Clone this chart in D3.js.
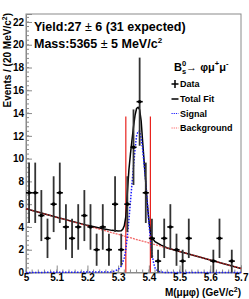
<!DOCTYPE html>
<html><head><meta charset="utf-8">
<script src="https://cdn.jsdelivr.net/npm/d3@7/dist/d3.min.js"></script>
<style>
body{margin:0;background:#fff}
text{font-family:"Liberation Sans",Arial,Helvetica,sans-serif;font-weight:bold}
</style>
</head><body>
<svg id="c" width="249" height="299"></svg>
<script>
// ---- data ----
const binCenters = [5.01,5.03,5.05,5.07,5.09,5.11,5.13,5.15,5.17,5.19,5.21,5.23,5.25,5.27,5.29,5.31,5.33,5.35,5.37,5.39,5.41,5.43,5.45,5.47,5.49,5.51,5.53,5.55,5.57,5.59,5.61,5.63,5.65,5.67,5.69];
const counts     = [7,7,5,3,6,7,4,3,4,5,4,2,4,2,6,2,6,11,15,7,3,1,3,4,2,1,3,0,0,0,1,3,0,1,0];
const errors     = [2.65,2.65,2.24,1.73,2.45,2.65,2,1.73,2,2.24,2,1.41,2,1.41,2.45,1.41,2.45,3.32,3.87,2.65,1.73,1,1.73,2,1.41,1,1.73,0,0,0,1,1.73,0,1,0];
const binHalfWidth = 0.01;

const bkgX = [5.0, 5.7];
const bkgY = [5.6, 0.35];

const totalX = [5.0,5.1,5.2,5.25,5.28,5.3,5.31,5.315,5.32,5.325,5.33,5.335,5.34,5.345,5.35,5.355,5.36,5.365,5.37,5.375,5.38,5.385,5.39,5.395,5.4,5.405,5.41,5.42,5.44,5.46,5.5,5.6,5.7];
const totalY = [5.6,4.86,4.14,3.85,3.70,3.64,3.66,3.8,4.1,4.9,7.0,9.0,10.4,11.6,12.8,13.8,14.4,14.5,14.3,13.3,11.4,9.6,7.9,6.0,4.6,3.5,3.05,2.7,2.4,2.15,1.85,1.1,0.35];

const sigX = [5.0,5.28,5.3,5.31,5.32,5.325,5.33,5.335,5.34,5.345,5.35,5.355,5.36,5.365,5.37,5.375,5.38,5.385,5.39,5.395,5.4,5.405,5.41,5.415,5.42,5.43,5.45,5.7];
const sigY = [0,0.05,0.25,0.55,1.3,2.0,3.2,4.6,6.2,7.8,9.3,10.8,12.0,12.4,12.4,11.8,10.8,9.4,7.9,6.2,4.4,2.9,1.7,0.9,0.4,0.1,0,0];

const windowEdges = [5.325, 5.405];
const windowTop = 13.7;

const xTicks = [5,5.1,5.2,5.3,5.4,5.5,5.6,5.7];
const yTicks = [0,2,4,6,8,10,12,14,16,18,20,22];

const legendLabels = ["Data","Total Fit","Signal","Background"];

// ---- layout ----
const svg = d3.select("#c");
const x = d3.scaleLinear().domain([5.0,5.7]).range([26,241]);
const y = d3.scaleLinear().domain([0,22.7]).range([272.5,14]);

// frame
svg.append("rect").attr("x",26).attr("y",14).attr("width",215).attr("height",258.5)
  .attr("fill","none").attr("stroke","#8a8a8a").attr("stroke-width",1);

// minor ticks
const yMinor = d3.range(0,22.8,0.4);
const xMinor = d3.range(5.0,5.701,0.02);
svg.append("g").selectAll("line").data(yMinor).join("line")
  .attr("x1",26).attr("x2",29).attr("y1",d=>y(d)).attr("y2",d=>y(d))
  .attr("stroke","#8a8a8a");
svg.append("g").selectAll("line").data(xMinor).join("line")
  .attr("x1",d=>x(d)).attr("x2",d=>x(d)).attr("y1",272.5).attr("y2",269.5)
  .attr("stroke","#8a8a8a");

// axes
const yAxis = svg.append("g").attr("transform","translate(26,0)")
  .call(d3.axisLeft(y).tickValues(yTicks).tickFormat(d3.format("d")).tickSize(-6).tickPadding(2));
const xAxis = svg.append("g").attr("transform","translate(0,272.5)")
  .call(d3.axisBottom(x).tickValues(xTicks).tickFormat(d=>d===5?"5":d3.format(".1f")(d)).tickSize(-7).tickPadding(3));
[yAxis,xAxis].forEach(g=>{
  g.select(".domain").attr("stroke","#8a8a8a");
  g.selectAll(".tick line").attr("stroke","#8a8a8a");
  g.selectAll("text").attr("font-size",10).attr("font-weight","bold").attr("fill","#000")
   .attr("font-family","'Liberation Sans',Arial,sans-serif");
});
xAxis.selectAll("text").attr("dy","0.55em");

// signal window lines
svg.append("g").selectAll("line").data(windowEdges).join("line")
  .attr("x1",d=>x(d)).attr("x2",d=>x(d)).attr("y1",y(0)).attr("y2",y(windowTop))
  .attr("stroke","#e8221d").attr("stroke-width",1.2);

const line = d3.line().x(d=>x(d[0])).y(d=>y(d[1]));

// total fit
svg.append("path").datum(totalX.map((v,i)=>[v,totalY[i]])).attr("d",line)
  .attr("fill","none").attr("stroke","#000").attr("stroke-width",1.5);
// background
svg.append("path").datum(bkgX.map((v,i)=>[v,bkgY[i]])).attr("d",line)
  .attr("fill","none").attr("stroke","#e33").attr("stroke-width",1.3).attr("stroke-dasharray","2,1").attr("opacity",0.75);
// signal
svg.append("path").datum(sigX.map((v,i)=>[v,sigY[i]])).attr("d",line)
  .attr("fill","none").attr("stroke","#1a1aff").attr("stroke-width",1.5).attr("stroke-dasharray","1.5,1.5");

// data points
const pts = binCenters.map((c,i)=>({c,n:counts[i],e:errors[i]})).filter(d=>d.n>0);
const gd = svg.append("g");
gd.selectAll("line.v").data(pts).join("line").attr("class","v")
  .attr("x1",d=>x(d.c)).attr("x2",d=>x(d.c)).attr("y1",d=>y(d.n-d.e)).attr("y2",d=>y(d.n+d.e))
  .attr("stroke","#333").attr("stroke-width",1.8);
gd.selectAll("line.h").data(pts).join("line").attr("class","h")
  .attr("x1",d=>x(d.c-binHalfWidth)).attr("x2",d=>x(d.c+binHalfWidth)).attr("y1",d=>y(d.n)).attr("y2",d=>y(d.n))
  .attr("stroke","#000").attr("stroke-width",1.6);
gd.selectAll("circle").data(pts).join("circle")
  .attr("cx",d=>x(d.c)).attr("cy",d=>y(d.n)).attr("r",1.8).attr("fill","#000");

// annotation
const t1 = svg.append("text").attr("x",34).attr("y",31).attr("font-size",12.5);
t1.append("tspan").text("Yield:27 ");
t1.append("tspan").attr("font-weight","normal").text("±");
t1.append("tspan").text(" 6 (31 expected)");
const t2 = svg.append("text").attr("x",34).attr("y",47.5).attr("font-size",12.5);
t2.append("tspan").text("Mass:5365 ");
t2.append("tspan").attr("font-weight","normal").text("±");
t2.append("tspan").text(" 5 MeV/c");
t2.append("tspan").attr("font-size",8).attr("dy",-5).text("2");

// legend title
const lt = svg.append("text").attr("x",174).attr("y",71).attr("font-size",11).attr("font-weight","normal");
lt.append("tspan").text("B");
lt.append("tspan").attr("font-size",7.5).attr("dy",3).attr("font-weight","bold").text("s");
lt.append("tspan").attr("font-size",7.5).attr("dx",-4.2).attr("dy",-8).attr("font-weight","bold").text("0");
lt.append("tspan").attr("dy",5).text("→ φμ");
lt.append("tspan").attr("font-size",7.5).attr("dy",-5).text("+");
lt.append("tspan").attr("dy",5).text("μ");
lt.append("tspan").attr("font-size",7.5).attr("dy",-5).text("-");

// legend entries
const ly = [84,99,113.5,128];
const lg = svg.append("g");
lg.selectAll("text").data(legendLabels).join("text")
  .attr("x",180).attr("y",(d,i)=>ly[i]+3.2).attr("font-size",9).attr("font-weight","normal").text(d=>d);
// data symbol
lg.append("line").attr("x1",171.5).attr("x2",178.5).attr("y1",ly[0]).attr("y2",ly[0]).attr("stroke","#000").attr("stroke-width",1.5);
lg.append("line").attr("x1",175).attr("x2",175).attr("y1",ly[0]-4).attr("y2",ly[0]+4).attr("stroke","#000").attr("stroke-width",1.5);
lg.append("line").attr("x1",171.5).attr("x2",178.5).attr("y1",ly[1]).attr("y2",ly[1]).attr("stroke","#000").attr("stroke-width",1.5);
lg.append("line").attr("x1",171.5).attr("x2",178.5).attr("y1",ly[2]).attr("y2",ly[2]).attr("stroke","#1a1aff").attr("stroke-width",1.2).attr("stroke-dasharray","1.2,1");
lg.append("line").attr("x1",171.5).attr("x2",178.5).attr("y1",ly[3]).attr("y2",ly[3]).attr("stroke","#f66").attr("stroke-width",1.2).attr("stroke-dasharray","1.2,1");

// axis titles
const yt = svg.append("text").attr("transform","translate(11,13) rotate(-90)").attr("text-anchor","end").attr("font-size",10);
yt.append("tspan").text("Events / (20 MeV/c");
yt.append("tspan").attr("font-size",7).attr("dy",-4).text("2");
yt.append("tspan").attr("dy",4).text(")");
const xt = svg.append("text").attr("x",241).attr("y",296).attr("text-anchor","end").attr("font-size",10);
xt.append("tspan").text("M(μμφ) (GeV/c");
xt.append("tspan").attr("font-size",7).attr("dy",-4).text("2");
xt.append("tspan").attr("dy",4).text(")");
</script>
</body></html>
